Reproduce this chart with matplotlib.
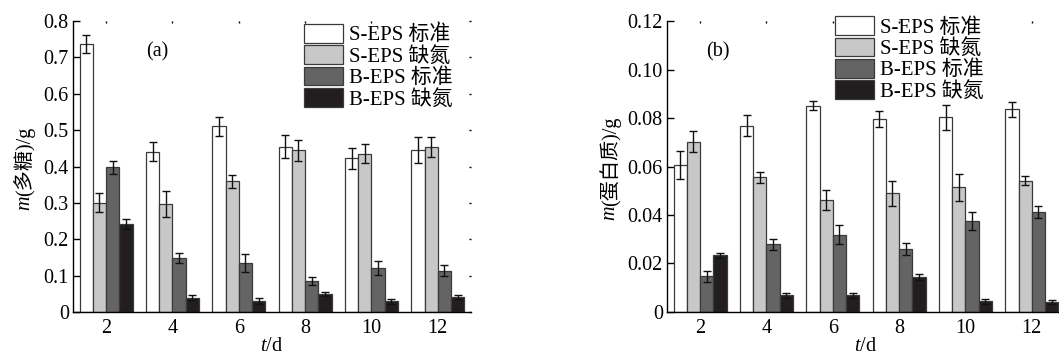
"""
plot.py — EPS 多糖 / 蛋白质含量分组柱状图 (a)(b)
"""

import numpy as np
import matplotlib
matplotlib.use("Agg")
import matplotlib.pyplot as plt

# 字体：西文 Times 风格，中文回退到 Noto Sans CJK
plt.rcParams["font.family"] = ["Liberation Serif", "Noto Sans CJK SC"]
plt.rcParams["mathtext.fontset"] = "custom"
plt.rcParams["mathtext.it"] = "Liberation Serif:italic"
plt.rcParams["mathtext.rm"] = "Liberation Serif"
plt.rcParams["axes.unicode_minus"] = False

# ============== 数据 ==============
days = [2, 4, 6, 8, 10, 12]
series_names = ["S-EPS 标准", "S-EPS 缺氮", "B-EPS 标准", "B-EPS 缺氮"]
series_colors = ["#ffffff", "#c8c8c8", "#646464", "#221e1f"]

# (a) 多糖
poly_s_std = [0.736, 0.441, 0.510, 0.454, 0.423, 0.445]
poly_s_std_err = [0.025, 0.026, 0.027, 0.032, 0.029, 0.035]
poly_s_n = [0.301, 0.296, 0.359, 0.445, 0.435, 0.453]
poly_s_n_err = [0.026, 0.036, 0.017, 0.029, 0.026, 0.028]
poly_b_std = [0.398, 0.148, 0.135, 0.086, 0.121, 0.113]
poly_b_std_err = [0.018, 0.014, 0.025, 0.011, 0.020, 0.015]
poly_b_n = [0.242, 0.039, 0.030, 0.049, 0.029, 0.042]
poly_b_n_err = [0.015, 0.007, 0.008, 0.005, 0.008, 0.006]

# (b) 蛋白质
prot_s_std = [0.0606, 0.0768, 0.0851, 0.0796, 0.0803, 0.0836]
prot_s_std_err = [0.0057, 0.0043, 0.0020, 0.0034, 0.0051, 0.0031]
prot_s_n = [0.0703, 0.0555, 0.0461, 0.0490, 0.0514, 0.0542]
prot_s_n_err = [0.0042, 0.0024, 0.0041, 0.0051, 0.0056, 0.0017]
prot_b_std = [0.0148, 0.0279, 0.0319, 0.0260, 0.0375, 0.0412]
prot_b_std_err = [0.0023, 0.0022, 0.0040, 0.0024, 0.0036, 0.0024]
prot_b_n = [0.0233, 0.0069, 0.0069, 0.0144, 0.0045, 0.0041]
prot_b_n_err = [0.0010, 0.0010, 0.0010, 0.0014, 0.0010, 0.0010]

poly_yticks = [0, 0.1, 0.2, 0.3, 0.4, 0.5, 0.6, 0.7, 0.8]
poly_yticklabels = ["0", "0.1", "0.2", "0.3", "0.4", "0.5", "0.6", "0.7", "0.8"]
prot_yticks = [0, 0.02, 0.04, 0.06, 0.08, 0.10, 0.12]
prot_yticklabels = ["0", "0.02", "0.04", "0.06", "0.08", "0.10", "0.12"]

FS = 14.5
BAR_W = 0.4


def draw_panel(ax, values, errors, yticks, yticklabels, ylabel_body, tag,
               tag_xy, legend_anchor, ylabel_x):
    x = np.array(days, dtype=float)
    offsets = [-1.5, -0.5, 0.5, 1.5]
    for vals, errs, name, col, off in zip(values, errors, series_names,
                                          series_colors, offsets):
        ax.bar(x + off * BAR_W, vals, width=BAR_W, color=col,
               edgecolor="#3a3a3a", linewidth=0.9, label=name, zorder=2)
        ax.errorbar(x + off * BAR_W, vals, yerr=errs, fmt="none",
                    ecolor="#111111", elinewidth=1.0, capsize=3.2,
                    capthick=1.0, zorder=3)

    ax.set_xlim(1, 13)
    ax.set_ylim(yticks[0], yticks[-1])
    ax.set_xticks(days)
    ax.set_xticklabels([str(d) for d in days], fontsize=FS)
    ax.set_yticks(yticks)
    ax.set_yticklabels(yticklabels, fontsize=FS)

    # 只保留左、下轴线，四边都有内向刻度
    ax.spines["top"].set_visible(False)
    ax.spines["right"].set_visible(False)
    ax.spines["left"].set_linewidth(1.0)
    ax.spines["bottom"].set_linewidth(1.0)
    ax.tick_params(axis="x", direction="in", top=True, length=1.5,
                   width=1.0, pad=5)
    ax.tick_params(axis="y", direction="in", right=True, length=5,
                   width=1.0, pad=3)
    for t in ax.yaxis.get_major_ticks():
        t.tick2line.set_markersize(1.5)

    # y 轴标签：斜体 m + 中文部分（mathtext 不能混排中文，分两段写）
    body = ax.text(ylabel_x, 0.5 + 0.018, ylabel_body, transform=ax.transAxes,
                   rotation=90, ha="center", va="center", fontsize=FS)
    ax.annotate("m", xy=(0.5, 0), xycoords=body, rotation=90,
                ha="center", va="top", fontsize=FS, fontstyle="italic")

    ax.set_xlabel(r"$t$/d", fontsize=FS)
    ax.xaxis.set_label_coords(0.5, -0.085)

    ax.text(tag_xy[0], tag_xy[1], tag, transform=ax.transAxes,
            fontsize=FS, ha="center", va="center")

    ax.legend(loc="upper left", bbox_to_anchor=legend_anchor,
              frameon=False, fontsize=15, borderpad=0, borderaxespad=0,
              handlelength=1.9, handleheight=1.0, handletextpad=0.25,
              labelspacing=0.0)


fig = plt.figure(figsize=(10.59, 3.56), dpi=100)
ax_a = fig.add_axes([0.0689, 0.1236, 0.3758, 0.8174])
ax_b = fig.add_axes([0.6298, 0.1236, 0.3758, 0.8174])

draw_panel(ax_a,
           [poly_s_std, poly_s_n, poly_b_std, poly_b_n],
           [poly_s_std_err, poly_s_n_err, poly_b_std_err, poly_b_n_err],
           poly_yticks, poly_yticklabels, "(多糖)/g", "(a)",
           (0.211, 0.893), (0.58, 0.99), -0.122)
draw_panel(ax_b,
           [prot_s_std, prot_s_n, prot_b_std, prot_b_n],
           [prot_s_std_err, prot_s_n_err, prot_b_std_err, prot_b_n_err],
           prot_yticks, prot_yticklabels, "(蛋白质)/g", "(b)",
           (0.128, 0.893), (0.422, 1.017), -0.143)

fig.savefig("out.png", dpi=100)
